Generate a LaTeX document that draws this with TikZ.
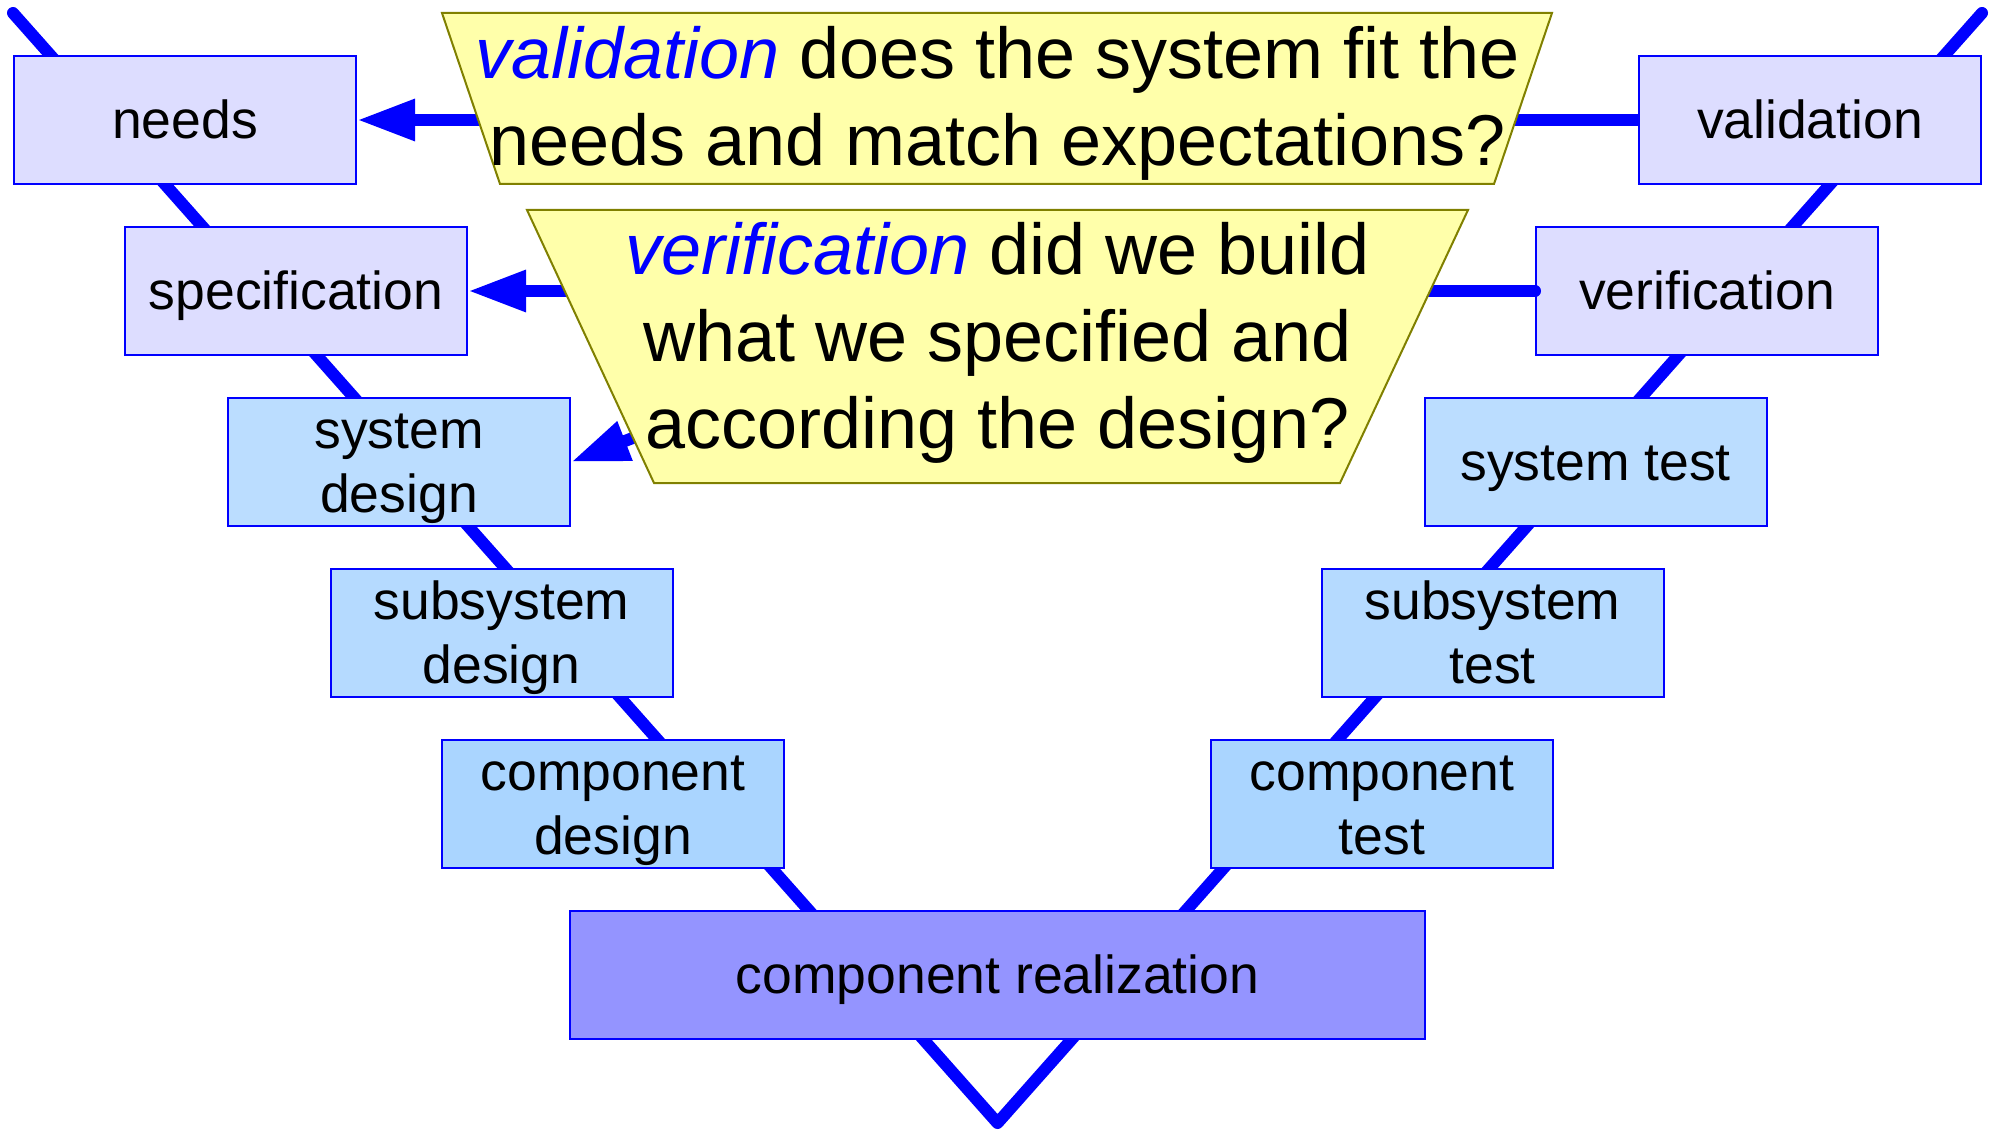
\documentclass[tikz,border=0pt]{standalone}
\usepackage{fontspec}
\setmainfont{Liberation Sans}
\usetikzlibrary{arrows.meta}
\definecolor{vblue}{HTML}{0000FF}
\definecolor{lav}{HTML}{DDDDFF}
\definecolor{lbA}{HTML}{BBDDFF}
\definecolor{lbB}{HTML}{B5DAFF}
\definecolor{lbC}{HTML}{AAD5FF}
\definecolor{realc}{HTML}{9494FF}
\definecolor{trapfill}{HTML}{FFFFAA}
\definecolor{trapline}{HTML}{808000}
\newcommand\ms{\rule[-0.212em]{0pt}{1.117em}}
\newcommand\kw[1]{\textcolor{vblue}{\itshape #1}}
\begin{document}
\begin{tikzpicture}[x=1pt,y=-1pt,
  stage/.style={draw=vblue,line width=2pt,minimum width=342pt,minimum height=128pt,
    inner sep=0pt,align=center,font=\fontsize{53.5}{64}\selectfont},
  vline/.style={draw=vblue,line width=12pt,line cap=round,line join=round},
  link/.style={draw=vblue,line width=12pt,-{Triangle[length=58pt,width=39pt]}},
  trap/.style={fill=trapfill,draw=trapline,line width=2pt},
  question/.style={inner sep=0pt,align=center,font=\fontsize{72}{87}\selectfont}]
\useasboundingbox (0,0) rectangle (1991,1131);
% V line
\coordinate (vl) at (13,13);
\coordinate (vb) at (997.5,1123);
\coordinate (vr) at (1982,13);
\draw[vline] (vl) -- (vb) -- (vr);
% left branch
\node[stage,fill=lav] (needs) at (185,120) {\ms needs};
\node[stage,fill=lav] (spec) at (296,291) {\ms specification};
\node[stage,fill=lbA] (sysd) at (399,462) {\ms system\\\ms design};
\node[stage,fill=lbB] (subd) at (501.5,633) {\ms subsystem\\\ms design};
\node[stage,fill=lbC] (compd) at (613,804) {\ms component\\\ms design};
% bottom
\node[stage,fill=realc,minimum width=855pt] (real) at (997.5,975) {\ms component realization};
% right branch
\node[stage,fill=lav] (valid) at (1810,120) {\ms validation};
\node[stage,fill=lav] (verif) at (1707,291) {\ms verification};
\node[stage,fill=lbA] (syst) at (1595.5,462) {\ms system test};
\node[stage,fill=lbB] (subt) at (1492.5,633) {\ms subsystem\\\ms test};
\node[stage,fill=lbC] (compt) at (1382,804) {\ms component\\\ms test};
% links
\coordinate (vsrc) at (720,404);
\draw[link,line cap=butt] (valid.west) -- (needs.east);
\draw[link,line cap=round] (verif.west) -- (spec.east);
\draw[link] (vsrc) -- (sysd.east);
% trapezoids
\coordinate (a1) at (442,13);
\coordinate (a2) at (1552,13);
\coordinate (a3) at (1494,184);
\coordinate (a4) at (500,184);
\draw[trap] (a1) -- (a2) -- (a3) -- (a4) -- cycle;
\coordinate (b1) at (527,210);
\coordinate (b2) at (1468,210);
\coordinate (b3) at (1340,483);
\coordinate (b4) at (654,483);
\draw[trap] (b1) -- (b2) -- (b3) -- (b4) -- cycle;
\node[question] (q1) at (997.5,97) {\ms\kw{validation} does the system fit the\\\ms needs and match expectations?};
\node[question] (q2) at (997.5,336.5) {\ms\kw{verification} did we build\\\ms what we specified and\\\ms according the design?};
\end{tikzpicture}
\end{document}
